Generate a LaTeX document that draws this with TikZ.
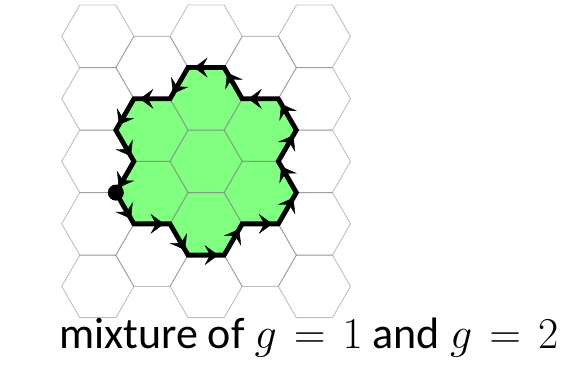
\documentclass[tikz,border=0pt]{standalone}
\usepackage{fix-cm}
\usepackage{fontspec}
\setmainfont{Carlito}
\usetikzlibrary{decorations.markings,arrows.meta}
\definecolor{lgreen}{RGB}{128,255,128}
\begin{document}
\begin{tikzpicture}[x=1pt,y=-1pt,
  gridline/.style={draw=black!50,draw opacity=0.5,line width=0.9pt},
  loopline/.style={draw=black,line width=4.8pt,line join=miter},
  arrowmark/.style={decoration={markings,mark=at position 0.85 with {\arrow{Stealth[length=15pt,width=22pt,inset=6pt]}}},decorate},
  labeltext/.style={font=\fontsize{44}{52}\selectfont,anchor=base east,inner sep=0pt}]
\useasboundingbox (0,0) rectangle (577,368);
\def\R{36.1}
% boundary vertices
\coordinate (A) at (115.85,192.6);
\coordinate (B) at (133.9,223.86);
\coordinate (C) at (170,223.86);
\coordinate (D) at (188.05,255.12);
\coordinate (E) at (224.15,255.12);
\coordinate (F) at (242.2,223.86);
\coordinate (G) at (278.3,223.86);
\coordinate (H) at (296.35,192.6);
\coordinate (I) at (278.3,161.34);
\coordinate (J) at (296.35,130.08);
\coordinate (K) at (278.3,98.82);
\coordinate (L) at (242.2,98.82);
\coordinate (M) at (224.15,67.56);
\coordinate (N) at (188.05,67.56);
\coordinate (O) at (170,98.82);
\coordinate (P) at (133.9,98.82);
\coordinate (Q) at (115.85,130.08);
\coordinate (S) at (133.9,161.34);
% green region
\fill[lgreen] (A)--(B)--(C)--(D)--(E)--(F)--(G)--(H)--(I)--(J)--(K)--(L)--(M)--(N)--(O)--(P)--(Q)--(S)--cycle;
% hexagonal grid
\foreach \i in {0,2,4} {
  \foreach \j in {0,...,4} {
    \pgfmathsetmacro\cx{97.8+54.15*\i}
    \pgfmathsetmacro\cy{36.3+62.52*\j}
    \draw[gridline] (\cx,\cy) +(0:\R) -- +(60:\R) -- +(120:\R) -- +(180:\R) -- +(240:\R) -- +(300:\R) -- cycle;
  }
}
\foreach \i in {1,3} {
  \foreach \j in {0,...,3} {
    \pgfmathsetmacro\cx{97.8+54.15*\i}
    \pgfmathsetmacro\cy{67.56+62.52*\j}
    \draw[gridline] (\cx,\cy) +(0:\R) -- +(60:\R) -- +(120:\R) -- +(180:\R) -- +(240:\R) -- +(300:\R) -- cycle;
  }
}
% loop
\draw[loopline] (A)--(B)--(C)--(D)--(E)--(F)--(G)--(H)--(I)--(J)--(K)--(L)--(M)--(N)--(O)--(P)--(Q)--(S)--cycle;
\foreach \a/\b in {A/B,B/C,C/D,D/E,E/F,F/G,G/H,H/I,I/J,J/K,K/L,L/M,M/N,N/O,O/P,P/Q,Q/S,S/A} {
  \path[arrowmark,line width=1pt] (\a) -- (\b);
}
\fill (A) circle[radius=8pt];
\node[labeltext] (label) at (558.5,348.3) {\thickmuskip=7mu mixture of $g = 1$ and $g = 2$};
\end{tikzpicture}
\end{document}
